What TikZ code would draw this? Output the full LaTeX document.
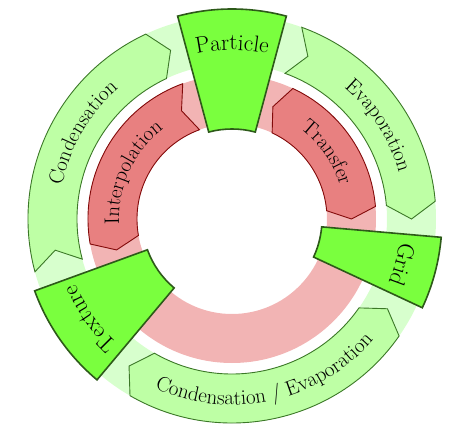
\documentclass[tikz,border=0pt]{standalone}
\usetikzlibrary{decorations.text}
\definecolor{boxgreen}{RGB}{122,255,62}
\definecolor{boxborder}{RGB}{45,90,25}
\definecolor{arrowgreen}{RGB}{190,255,165}
\definecolor{arrowborder}{RGB}{60,120,40}
\definecolor{ringgreen}{RGB}{215,255,205}
\definecolor{redfill}{RGB}{232,128,128}
\definecolor{redborder}{RGB}{130,10,10}
\definecolor{ringpink}{RGB}{242,180,180}
\tikzset{
  boxshape/.style={fill=boxgreen, draw=boxborder, line width=1.6pt, line join=miter},
  garrow/.style={fill=arrowgreen, draw=arrowborder, line width=0.9pt, line join=miter},
  rarrow/.style={fill=redfill, draw=redborder, line width=0.9pt, line join=miter},
}
\newcommand\arclabel[5]{%
  \path[decorate,decoration={text along path,text align=center,
    text={|\fontsize{#5}{#5}\selectfont|#1}}]
    (#2:#4) arc[start angle=#2,end angle=#3,radius=#4];}
\begin{document}
\begin{tikzpicture}
\useasboundingbox (-232pt,-223pt) rectangle (237pt,219pt);
% background rings
\fill[ringgreen, even odd rule] (0,0) circle (204pt) (0,0) circle (155pt);
\fill[ringpink, even odd rule] (0,0) circle (144pt) (0,0) circle (95pt);
% red arrows
\draw[rarrow] (110:144pt) arc[start angle=110,end angle=190,radius=144pt] -- (195:119.5pt)
  -- (190:95pt) arc[start angle=190,end angle=110,radius=95pt] -- (115:119.5pt) -- cycle;
\draw[rarrow] (65:144pt) arc[start angle=65,end angle=5,radius=144pt] -- (0:119.5pt)
  -- (5:95pt) arc[start angle=5,end angle=65,radius=95pt] -- (70:119.5pt) -- cycle;
% green arrows
\draw[garrow] (195:204pt) arc[start angle=195,end angle=115,radius=204pt] -- (110:179.5pt)
  -- (115:155pt) arc[start angle=115,end angle=195,radius=155pt] -- (190:179.5pt) -- cycle;
\draw[garrow] (70:204pt) arc[start angle=70,end angle=5,radius=204pt] -- (0:179.5pt)
  -- (5:155pt) arc[start angle=5,end angle=70,radius=155pt] -- (65:179.5pt) -- cycle;
\draw[garrow] (-35:204pt) arc[start angle=-35,end angle=-120,radius=204pt] -- (-125:179.5pt)
  -- (-120:155pt) arc[start angle=-120,end angle=-35,radius=155pt] -- (-30:179.5pt) -- cycle;
% boxes
\draw[boxshape] (105:210pt) arc[start angle=105,end angle=75,radius=210pt]
  -- (75:90pt) arc[start angle=75,end angle=105,radius=90pt] -- cycle;
\draw[boxshape] (-5:210pt) arc[start angle=-5,end angle=-25,radius=210pt]
  -- (-25:90pt) arc[start angle=-25,end angle=-5,radius=90pt] -- cycle;
\draw[boxshape] (230:210pt) arc[start angle=230,end angle=200,radius=210pt]
  -- (200:90pt) arc[start angle=200,end angle=230,radius=90pt] -- cycle;
% labels
\arclabel{Particle}{105}{75}{169pt}{23pt}
\arclabel{Grid}{-5}{-25}{169pt}{23pt}
\arclabel{Texture}{230}{200}{169pt}{23pt}
\arclabel{Condensation}{190}{110}{173pt}{21pt}
\arclabel{Evaporation}{65}{0}{173pt}{21pt}
\arclabel{Condensation / Evaporation}{-125}{-30}{186pt}{21pt}
\arclabel{Interpolation}{195}{115}{113pt}{21pt}
\arclabel{Transfer}{70}{0}{113pt}{21pt}
\end{tikzpicture}
\end{document}
